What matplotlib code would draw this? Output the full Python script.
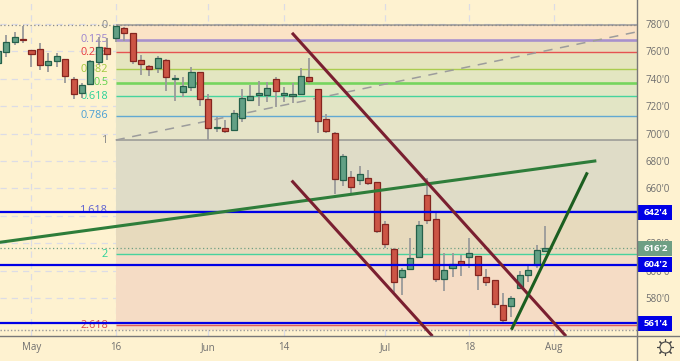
import numpy as np
import matplotlib
matplotlib.use('Agg')
import matplotlib.pyplot as plt
from matplotlib.lines import Line2D
from matplotlib.patches import Rectangle

plt.rcParams['font.family'] = ['Open Sans', 'DejaVu Sans']

# candles, first bar sits 14 bars left of the fib start
first_bar = -14
opens = [751.8, 759.8, 767.1, 769, 761.2, 761.7, 749.8, 752.7, 754.7, 740.1, 729.9, 736.2, 752.5, 762.2,
         769.5, 776.8, 773.2, 753.5, 749.6, 748.1, 753.5, 740.1, 730.4, 734.2, 744.7, 725, 704.3, 704.1,
         702.9, 711.1, 724.3, 727.9, 728.4, 739.6, 728.4, 727.7, 728.9, 741.5, 732.8, 710.6, 700.2, 666.1,
         668.1, 665.9, 667.6, 664.4, 634, 615.7, 595.3, 601.1, 610.1, 654.9, 637.4, 594.1, 601.9, 606.7,
         610.1, 610.4, 595.3, 592.9, 575.1, 574.4, 587.3, 596.5, 603.8, 614.5]
closes = [760.5, 767.1, 770.3, 768.3, 757.8, 750, 753.2, 756.4, 742, 728.9, 735.7, 752.7, 763.4, 757.8,
          778.5, 773.2, 753.2, 750.5, 747.4, 755.4, 741.5, 740.6, 734.5, 744.7, 725, 704.1, 704.8, 701.6,
          714.8, 725.7, 727.7, 729.9, 733, 730.8, 729.9, 729.1, 742.3, 738.1, 709.4, 702.1, 666.6, 683.4,
          661.3, 670.2, 664.2, 628.6, 619.6, 591.9, 600.2, 609.2, 633.5, 637.1, 594.1, 600.2, 604.5, 605,
          612.6, 596.5, 591.9, 575.8, 563.9, 579.7, 596.5, 600.2, 615, 616.2]
highs = [763.4, 772, 774.4, 778.8, 761.2, 765.9, 758.6, 758.6, 754.7, 741.5, 736.7, 753.7, 770.7, 769.5,
         778.5, 778, 773.2, 757.4, 750, 756.6, 754.2, 742.8, 741, 748.4, 744.7, 728.6, 711.9, 709.9,
         717.2, 732.3, 735.5, 738.4, 737.9, 741.1, 734.2, 737.2, 747.6, 754.9, 732.8, 714.3, 700.9, 684.9,
         672.7, 676.3, 673.4, 664.4, 636.4, 616.2, 601.6, 623.5, 636.2, 667.3, 642.3, 613.1, 613.1, 611.4,
         623.5, 610.4, 600.9, 592.9, 583.4, 581.4, 599.9, 604.1, 618.7, 632.5]
lows = [751.3, 755.7, 764.7, 766.4, 748.4, 746.4, 745.2, 748.4, 736.7, 725.5, 725.7, 735.5, 750, 753.7,
        767.1, 767.6, 750.8, 742.8, 742, 744.5, 731.3, 724, 726.5, 731.3, 720.1, 695.3, 701.4, 700.7,
        702.6, 708.7, 723.8, 720.4, 723.3, 719.2, 722.8, 722.1, 728.9, 736, 700.2, 700.2, 655.9, 662,
        655.9, 662.7, 662.5, 627.7, 616.2, 584.6, 582.2, 600.9, 609.7, 634, 591.9, 585.3, 595.5, 596.3,
        601.6, 585.8, 589, 572.9, 562.7, 566.3, 587, 591.9, 601.6, 614.5]

# fib levels
fib_names = ['0', '0.125', '0.236', '0.382', '0.5', '0.618', '0.786', '1', '1.618', '2', '2.618']
fib_prices = [779, 768.5, 759.2, 747, 737.1, 727.3, 713.2, 695.3, 643.6, 611.9, 560.2]
fib_colors = ['#8a8a8a', '#9c84cf', '#e5393f', '#a0c83c', '#62d24c', '#2bd197', '#4a9fd4', '#8a8a8a', '#5c5fd0',
              '#2bd197', '#d9464a']
fib_widths = [1.1, 1.9, 1, 1, 1.9, 1, 1, 1.1, 1, 1, 1]
band_colors = ['#fbe3c6', '#e9debe', '#e5e5bf', '#e3e6c1', '#e1e7c5', '#e2e5c5', '#e6e4c8', '#dfdcc7', '#e7dabd',
               '#f5dcc5']

# price scale and time scale
price_ticks = [780, 760, 740, 720, 700, 680, 660, 640, 620, 600, 580]
price_labels = ["780'0", "760'0", "740'0", "720'0", "700'0", "680'0", "660'0", "640'0", "620'0", "600'0", "580'0"]
time_ticks = [-10, 0, 11, 20, 32, 42, 52]
time_labels = ['May', '16', 'Jun', '14', 'Jul', '18', 'Aug']

# horizontal levels with their badges
level_prices = [642.5, 604.25, 561.5]
level_labels = ["642'4", "604'2", "561'4"]
last_price = 616.25
last_label = "616'2"

# drawn lines, (bar, price) at both ends
dash_line = ([0, 61.85], [695.3, 774.2])
long_green = ([-13.74, 56.9], [620.7, 680])
steep_green = ([47.07, 55.94], [557.9, 670.7])
upper_maroon = ([21.06, 53.36], [772.7, 553])
lower_maroon = ([21.02, 37.5], [664.9, 553])

bg = '#fef2d0'
fig = plt.figure(figsize=(6.8, 3.61), dpi=100, facecolor=bg)
ax = fig.add_axes([0, 25 / 361, 636.5 / 680, 336 / 361], facecolor=bg)
ax.set_xlim(-13.74, 61.85)
ax.set_ylim(552.3, 797.5)
for s in ax.spines.values():
    s.set_visible(False)

ax.set_xticks(time_ticks)
ax.set_xticklabels(time_labels)
ax.set_yticks(price_ticks)
ax.set_yticklabels(price_labels)
ax.yaxis.tick_right()
ax.tick_params(length=0, labelsize=7, labelcolor='#6e6e6e')
ax.tick_params(axis='y', pad=6.5)
ax.tick_params(axis='x', pad=4.5)
ax.grid(True, color='#dcdce6', lw=0.9, ls=(0, (5, 4)))
ax.set_axisbelow(True)

# fib bands and lines
for i in range(len(band_colors)):
    ax.axhspan(fib_prices[i + 1], fib_prices[i], xmin=13.74 / 75.59, color=band_colors[i], lw=0, zorder=1)
ax.axhspan(556.6, 560.2, xmin=13.74 / 75.59, color=band_colors[-1], lw=0, zorder=1)
for name, p, c, w in zip(fib_names, fib_prices, fib_colors, fib_widths):
    ax.plot([0, 61.85], [p, p], color=c, lw=w, alpha=0.85, zorder=2, solid_capstyle='butt')
    ax.text(-0.9, p, name, color=c, fontsize=7.8, ha='right', va='center', zorder=2.2)

# dotted levels
ax.axhline(779, color='#8a8a8a', lw=0.9, ls=(0, (1, 2)), zorder=1.5)
ax.axhline(556.6, color='#9a9a9a', lw=1, ls=(0, (1, 1.5)), zorder=1.5)
ax.axhline(last_price, color='#6e9f84', lw=0.9, ls=(0, (1, 2)), zorder=1.5)

ax.plot(dash_line[0], dash_line[1], color='#9c9c9c', lw=1.1, ls=(0, (6, 5)), zorder=2.5)

# candles
bars = np.arange(first_bar, first_bar + len(opens))
for x, o, h, l, c in zip(bars, opens, highs, lows, closes):
    up = c >= o
    ax.vlines(x, l, h, color='#9a9a9a', lw=1.3, zorder=3)
    ax.bar(x, abs(c - o), bottom=min(o, c), width=0.72,
           color='#62a085' if up else '#cc5545',
           edgecolor='#24604a' if up else '#84251f', lw=0.9, zorder=3.2)

# levels and trend lines
for p in level_prices:
    ax.axhline(p, color='#0000e6', lw=1.6, zorder=4)
ax.plot(long_green[0], long_green[1], color='#2e7d3a', lw=2.2, zorder=4.2)
ax.plot(upper_maroon[0], upper_maroon[1], color='#7a1f30', lw=2.2, zorder=4.3)
ax.plot(lower_maroon[0], lower_maroon[1], color='#7a1f30', lw=2.2, zorder=4.3)
ax.plot(steep_green[0], steep_green[1], color='#1b5e20', lw=2.2, zorder=4.4)

# badges on the price scale
trans = ax.get_yaxis_transform()
for p, lab, c in zip(level_prices + [last_price], level_labels + [last_label],
                     ['#0000e6'] * 3 + ['#6e9f84']):
    ax.add_patch(Rectangle((1.0, p - 5.5), 35 / 636.5, 11, transform=trans, color=c, lw=0,
                           clip_on=False, zorder=10))
    ax.text(1 + 19.5 / 636.5, p, lab, transform=trans, color='white', fontsize=6.8, fontweight='bold',
            ha='center', va='center', zorder=11)

# frame around the scales
fig.add_artist(Line2D([636.5 / 680, 636.5 / 680], [0, 1], color='#787878', lw=1))
fig.add_artist(Line2D([0, 1], [25 / 361, 25 / 361], color='#787878', lw=1))

# settings gear
gx, gy = 665 / 680, 14 / 361
fig.add_artist(Line2D([gx], [gy], marker=(8, 2, 0), ms=12, mew=0.8, color='#444444', transform=fig.transFigure))
fig.add_artist(Line2D([gx], [gy], marker='o', ms=8, mew=0.8, mfc=bg, mec='#444444', transform=fig.transFigure))

fig.savefig('out.png', dpi=100, facecolor=bg)
